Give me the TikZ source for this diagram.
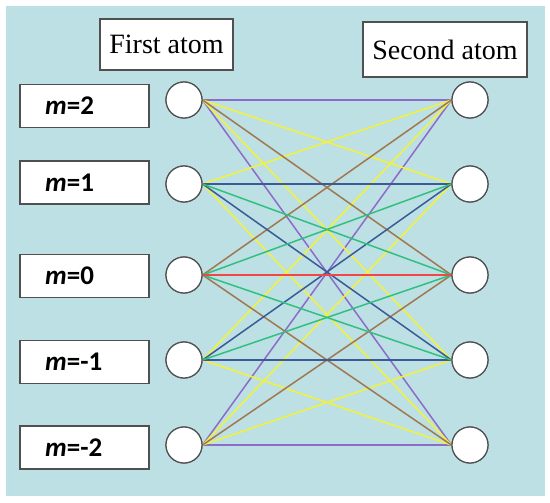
\documentclass[tikz,border=0pt]{standalone}
\usepackage{fontspec}
\setmainfont{Liberation Serif}
\newfontfamily\mfont{Carlito}
\definecolor{bgblue}{HTML}{BDE0E4}
\definecolor{cP}{HTML}{8C6CC8}
\definecolor{cY}{HTML}{F2F23A}
\definecolor{cB}{HTML}{A07850}
\definecolor{cD}{HTML}{3A5A98}
\definecolor{cG}{HTML}{30C080}
\definecolor{cR}{HTML}{F04848}
\definecolor{edge}{HTML}{505050}
\begin{document}
\begin{tikzpicture}[x=1pt,y=-1pt,
  atom/.style={circle,draw=edge,fill=white,line width=1.2pt,minimum size=36pt,inner sep=0pt},
  mbox/.style={rectangle,draw=edge,fill=white,line width=1.2pt,minimum width=129pt,minimum height=43pt,inner sep=0pt},
  tbox/.style={rectangle,draw=edge,fill=white,line width=1.2pt,inner sep=0pt},
  mtext/.style={anchor=west,font=\mfont\fontsize{27}{30}\selectfont\bfseries,inner sep=0pt},
  ttext/.style={font=\fontsize{28}{32}\selectfont,inner sep=0pt},
  link/.style={line width=1.5pt}]
\useasboundingbox (0,0) rectangle (550,503);
\fill[bgblue] (6,6) rectangle (545,496);
% title boxes
\node[tbox,minimum width=133pt,minimum height=51pt] (first) at (166.5,44.5) {};
\node[ttext] (firstt) at (first.center) {First atom};
\node[tbox,minimum width=164pt,minimum height=55pt] (second) at (445,49.5) {};
\node[ttext] (secondt) at (second.center) {Second atom};
% atoms
\foreach \i/\y in {1/100,2/184,3/275,4/360,5/445}{
  \node[atom] (L\i) at (184,\y) {};
  \node[atom] (R\i) at (470,\y) {};
}
% links
\foreach \a/\b in {1/1,1/5,5/1,5/5}{\draw[link,cP] (L\a.east) -- (R\b.west);}
\foreach \a/\b in {1/2,1/4,2/1,2/5,4/1,4/5,5/2,5/4}{\draw[link,cY] (L\a.east) -- (R\b.west);}
\foreach \a/\b in {1/3,3/1,3/5,5/3}{\draw[link,cB] (L\a.east) -- (R\b.west);}
\foreach \a/\b in {2/2,2/4,4/2,4/4}{\draw[link,cD] (L\a.east) -- (R\b.west);}
\foreach \a/\b in {2/3,3/2,3/4,4/3}{\draw[link,cG] (L\a.east) -- (R\b.west);}
\draw[link,cR] (L3.east) -- (R3.west);
% redraw atoms on top
\foreach \i in {1,...,5}{
  \node[atom] at (L\i) {};
  \node[atom] at (R\i) {};
}
% m boxes
\foreach \i/\y/\t in {1/106/2,2/182.5/1,3/276/0,4/362/-1,5/447.5/-2}{
  \node[mbox] (B\i) at (84.5,\y) {};
  \node[mtext] (T\i) at (45,\y) {\textit{m}=\t};
}
\end{tikzpicture}
\end{document}
